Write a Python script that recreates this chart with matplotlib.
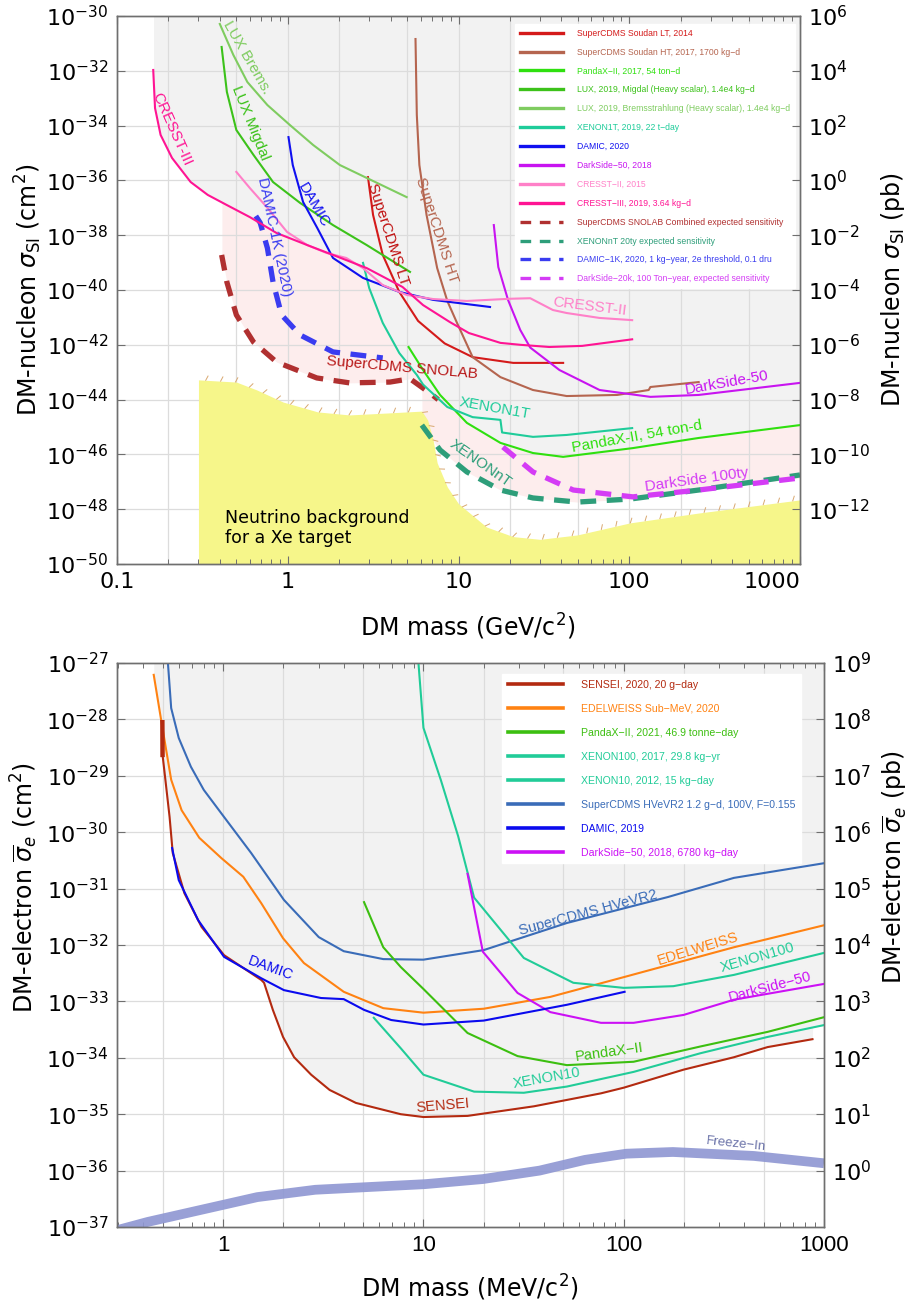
import numpy as np
import matplotlib
matplotlib.use("Agg")
import matplotlib.pyplot as plt
from matplotlib.lines import Line2D
from matplotlib import patheffects as pe
from matplotlib.ticker import NullLocator, LogLocator, NullFormatter

# ---------------- DATA: top panel (GeV, log10 sigma_SI / cm^2) ----------------
cresst3_m = [0.163, 0.167, 0.18, 0.21, 0.27, 0.34, 0.44, 0.60, 0.86, 1.30, 1.84, 2.9, 4.7, 6.2, 8.9, 11.5, 17.6, 23, 34, 53, 104]
cresst3_e = [-31.97, -33.36, -34.34, -35.18, -36.06, -36.53, -36.9, -37.34, -37.92, -38.36, -38.72, -39.2, -39.89, -40.55, -41.17, -41.57, -41.93, -42.0, -42.08, -42.04, -41.8]
cresst2_m = [0.5, 0.6, 0.76, 0.99, 1.3, 1.69, 2.2, 2.76, 3.6, 4.97, 7.1, 11.2, 20, 26.3, 35.7, 43, 67, 104]
cresst2_e = [-35.69, -36.28, -37.0, -37.88, -38.36, -38.65, -38.83, -39.2, -39.82, -40.18, -40.33, -40.4, -40.32, -40.3, -40.73, -40.84, -41.02, -41.1]
damic20_m = [1.01, 1.07, 1.23, 1.49, 1.84, 2.76, 4.5, 7.1, 15.3]
damic20_e = [-34.42, -35.44, -36.79, -37.74, -38.83, -39.56, -40.07, -40.36, -40.62]
luxb_m = [0.4, 0.48, 0.58, 0.76, 1.03, 1.41, 2.02, 2.9, 4.97]
luxb_e = [-30.29, -31.42, -32.41, -33.25, -33.98, -34.71, -35.44, -35.91, -36.61]
luxm_m = [0.41, 0.44, 0.5, 0.63, 0.82, 1.18, 1.84, 2.9, 5.2]
luxm_e = [-31.13, -32.77, -34.16, -35.07, -36.06, -36.82, -37.63, -38.36, -39.34]
x1t_m = [2.76, 3.0, 3.6, 4.5, 5.7, 6.2, 8.6, 12.1, 17.6, 18.0, 27.3, 43, 104]
x1t_e = [-39.01, -39.93, -41.2, -42.3, -43.1, -43.45, -44.27, -44.64, -44.74, -45.2, -45.36, -45.29, -45.04]
px17_m = [5.1, 6.2, 7.8, 11.2, 17.6, 27.3, 41, 105, 255, 1000]
px17_e = [-42.08, -42.92, -43.83, -44.85, -45.58, -45.95, -46.09, -45.77, -45.4, -44.93]
cdmslt_m = [2.95, 3.16, 3.6, 4.5, 5.8, 8.3, 12.1, 20.9, 41]
cdmslt_e = [-35.88, -37.26, -38.72, -40.07, -41.13, -41.95, -42.45, -42.66, -42.66]
cdmsht_m = [5.6, 5.7, 5.9, 6.5, 7.5, 8.6, 9.8, 12.1, 17.6, 27.3, 43, 85, 130, 133, 255]
cdmsht_e = [-30.84, -33.61, -35.44, -37.26, -39.2, -40.4, -41.2, -42.45, -43.18, -43.65, -43.87, -43.83, -43.65, -43.54, -43.36]
ds50_m = [16.1, 17.1, 19.5, 23, 26.3, 39, 67, 133, 255, 1000]
ds50_e = [-37.63, -39.16, -40.36, -41.46, -42.1, -42.92, -43.65, -43.9, -43.83, -43.39]
snolab_m = [0.41, 0.44, 0.5, 0.63, 0.86, 1.48, 2.3, 3.97, 5.2, 6.8, 7.6]
snolab_e = [-38.72, -39.71, -40.91, -41.9, -42.63, -43.21, -43.39, -43.36, -43.24, -43.76, -44.0]
xnt_m = [6.1, 7.8, 11.2, 17.6, 27.3, 49.6, 101, 255, 1000]
xnt_e = [-44.93, -45.84, -46.64, -47.3, -47.59, -47.74, -47.63, -47.3, -46.75]
ds20k_m = [18.2, 27.3, 47, 105, 255, 1000]
ds20k_e = [-45.73, -46.64, -47.3, -47.55, -47.3, -46.86]
damic1k_m = [0.65, 0.69, 0.76, 0.82, 0.92, 1.18, 1.84, 3.6]
damic1k_e = [-37.3, -37.55, -38.47, -39.71, -40.91, -41.64, -42.26, -42.48]
nu_m = [0.30, 0.5, 0.66, 0.94, 1.5, 2.3, 3.8, 6.1, 6.6, 7.1, 7.5, 8.6, 10, 14.6, 20.9, 30, 49.6, 101, 255, 1000]
nu_e = [-43.28, -43.36, -43.65, -44.09, -44.45, -44.56, -44.49, -44.42, -44.75, -45.47, -46.31, -47.19, -47.8, -48.65, -49.0, -49.1, -48.94, -48.5, -48.14, -47.66]

top_xticks = [0.1, 1, 10, 100, 1000]
top_xticklabels = ["0.1", "1", "10", "100", "1000"]
top_yexp = [-30, -32, -34, -36, -38, -40, -42, -44, -46, -48, -50]
top_ryexp = [6, 4, 2, 0, -2, -4, -6, -8, -10, -12]

# ---------------- DATA: bottom panel (MeV, log10 sigma_e / cm^2) ----------------
hvev_m = [0.52, 0.55, 0.60, 0.69, 0.80, 1.01, 1.38, 2.01, 3.0, 4.0, 6.3, 10, 20, 52, 166, 355, 1000]
hvev_e = [-26.6, -27.8, -28.33, -28.84, -29.25, -29.73, -30.37, -31.2, -31.86, -32.11, -32.25, -32.26, -32.09, -31.61, -31.15, -30.81, -30.55]
edel_m = [0.45, 0.49, 0.55, 0.62, 0.76, 0.98, 1.26, 1.55, 1.99, 2.53, 4.0, 6.3, 10, 20, 43, 100, 355, 1000]
edel_e = [-27.21, -28.01, -29.07, -29.61, -30.1, -30.46, -30.79, -31.26, -31.88, -32.32, -32.83, -33.12, -33.2, -33.13, -32.92, -32.57, -32.04, -31.65]
sensei_m = [0.497, 0.498, 0.51, 0.54, 0.56, 0.64, 0.78, 1.01, 1.55, 1.6, 1.77, 1.99, 2.26, 2.75, 3.4, 4.6, 7.7, 10, 16.6, 35.6, 77, 100, 199, 355, 523, 876]
sensei_e = [-28.05, -28.63, -28.95, -29.73, -30.37, -31.08, -31.68, -32.18, -32.62, -32.67, -33.15, -33.63, -33.99, -34.3, -34.57, -34.8, -35.0, -35.05, -35.03, -34.86, -34.63, -34.53, -34.21, -33.99, -33.81, -33.67]
damic19_m = [0.556, 0.60, 0.75, 1.01, 1.55, 2.01, 3.08, 4.0, 5.05, 6.9, 10, 20, 52, 101]
damic19_e = [-30.28, -30.85, -31.56, -32.21, -32.59, -32.8, -32.94, -32.96, -33.15, -33.33, -33.41, -33.34, -33.06, -32.83]
px21_m = [5.05, 6.3, 7.7, 10, 16.6, 29.5, 52, 112, 241, 523, 1000]
px21_e = [-31.24, -32.04, -32.39, -32.78, -33.56, -33.97, -34.13, -34.07, -33.8, -33.54, -33.28]
x10_m = [5.65, 7.7, 10, 17.9, 31.7, 52, 112, 241, 523, 1000]
x10_e = [-33.29, -33.83, -34.3, -34.6, -34.62, -34.51, -34.25, -33.92, -33.63, -33.42]
x100_m = [9.3, 10, 12.2, 14.9, 17.9, 31.7, 56, 100, 177, 355, 1000]
x100_e = [-26.7, -28.15, -29.07, -30.07, -31.16, -32.23, -32.67, -32.76, -32.73, -32.53, -32.14]
ds50e_m = [16.6, 19.8, 29.5, 43, 77, 112, 199, 355, 1000]
ds50e_e = [-30.74, -32.12, -32.85, -33.19, -33.38, -33.38, -33.24, -32.97, -32.69]
fi_m = [0.30, 0.42, 1.48, 2.88, 10.2, 19.8, 38, 64, 103, 176, 446, 1000]
fi_e = [-37.05, -36.91, -36.47, -36.34, -36.24, -36.15, -36.0, -35.81, -35.7, -35.67, -35.74, -35.87]

bot_xticks = [1, 10, 100, 1000]
bot_xticklabels = ["1", "10", "100", "1000"]
bot_yexp = [-27, -28, -29, -30, -31, -32, -33, -34, -35, -36, -37]
bot_ryexp = [9, 8, 7, 6, 5, 4, 3, 2, 1, 0]

# ---------------- helpers ----------------
def sig(e):
    return 10.0 ** np.asarray(e, dtype=float)

def envelope(curves, grid):
    lg = np.log10(grid)
    vals = np.full((len(curves), len(grid)), np.inf)
    for i, (m, e) in enumerate(curves):
        lm = np.log10(m)
        inside = (lg >= lm.min()) & (lg <= lm.max())
        vals[i, inside] = np.interp(lg[inside], lm, e)
    return vals.min(axis=0)

W, H = 910, 1309
fig = plt.figure(figsize=(W / 100, H / 100), dpi=100)
fig.patch.set_facecolor("white")

def px_axes(l, t, r, b):
    return fig.add_axes([l / W, 1 - b / H, (r - l) / W, (b - t) / H])

GRAY = "#f2f2f2"
PINK = "#fdeded"
YELLOW = "#f6f68a"
GRID = "#dcdcdc"
SPINE = "#6f6f6f"
LBL = ["Liberation Sans", "DejaVu Sans"]
NARROW = ["Liberation Sans Narrow", "Liberation Sans", "DejaVu Sans"]

def style_axes(ax):
    for s in ax.spines.values():
        s.set_color(SPINE)
        s.set_linewidth(1.0)

# =============================== TOP PANEL ===============================
ax = px_axes(117, 16, 800, 564)
ax.set_xscale("log"); ax.set_yscale("log")
ax.set_xlim(0.1, 1000); ax.set_ylim(1e-50, 1e-30)
style_axes(ax)

solid_top = [
    (cresst3_m, cresst3_e), (cresst2_m, cresst2_e), (damic20_m, damic20_e),
    (luxb_m, luxb_e), (luxm_m, luxm_e), (x1t_m, x1t_e), (px17_m, px17_e),
    (cdmslt_m, cdmslt_e), (cdmsht_m, cdmsht_e), (ds50_m, ds50_e)]
proj_top = [(snolab_m, snolab_e), (xnt_m, xnt_e), (ds20k_m, ds20k_e), (damic1k_m, damic1k_e)]
g = np.logspace(np.log10(0.1), 3, 2000)
env_t = envelope(solid_top, g)
proj_t = envelope(proj_top, g)
ok = np.isfinite(env_t)
ax.fill_between(g[ok], sig(env_t[ok]), 1e-30, color=GRAY, lw=0, zorder=0.2)
pk = np.isfinite(proj_t) & ok & (proj_t < env_t)
ax.fill_between(g, sig(np.where(pk, proj_t, -30)), sig(np.where(pk, env_t, -30)),
                where=pk, color=PINK, lw=0, zorder=0.2)
ax.fill_between(nu_m, sig(nu_e), 1e-51, color=YELLOW, lw=0, zorder=0.6)
ax.plot(nu_m, sig(nu_e), color="#d9a870", lw=0.7, zorder=0.65,
        path_effects=[pe.TickedStroke(spacing=10.5, angle=65, length=0.33)])

for gx in [0.2, 0.5, 1, 2, 5, 10, 20, 50, 100, 200, 500]:
    ax.axvline(gx, color=GRID, lw=0.9, zorder=0.4)
for ge in top_yexp[1:-1]:
    ax.axhline(10.0 ** ge, color=GRID, lw=0.9, zorder=0.4)

LW = 1.5
c_lt, c_ht, c_p17, c_lm, c_lb = "#d41a1a", "#b5654f", "#2fe00f", "#3cc21a", "#7fcc60"
c_x1t, c_d20, c_ds, c_c2, c_c3 = "#1fcc9a", "#1010f0", "#c814f0", "#ff80c8", "#ff1493"
c_sno, c_xnt, c_d1k, c_d20k = "#b03030", "#2e9e7a", "#3a3cf0", "#d43cf5"

ax.plot(cdmslt_m, sig(cdmslt_e), color=c_lt, lw=LW, zorder=3)
ax.plot(cdmsht_m, sig(cdmsht_e), color=c_ht, lw=LW, zorder=3)
ax.plot(px17_m, sig(px17_e), color=c_p17, lw=LW, zorder=3)
ax.plot(luxm_m, sig(luxm_e), color=c_lm, lw=LW, zorder=3)
ax.plot(luxb_m, sig(luxb_e), color=c_lb, lw=LW, zorder=3)
ax.plot(x1t_m, sig(x1t_e), color=c_x1t, lw=LW, zorder=3)
ax.plot(damic20_m, sig(damic20_e), color=c_d20, lw=LW, zorder=3)
ax.plot(ds50_m, sig(ds50_e), color=c_ds, lw=LW, zorder=3)
ax.plot(cresst2_m, sig(cresst2_e), color=c_c2, lw=LW, zorder=3)
ax.plot(cresst3_m, sig(cresst3_e), color=c_c3, lw=LW, zorder=3)
DL = 3.8
ax.plot(snolab_m, sig(snolab_e), color=c_sno, lw=DL, dashes=(3.0, 2.0), zorder=2.5)
ax.plot(xnt_m, sig(xnt_e), color=c_xnt, lw=DL, dashes=(3.0, 2.0), zorder=2.5)
ax.plot(damic1k_m, sig(damic1k_e), color=c_d1k, lw=DL, dashes=(3.0, 2.0), zorder=2.5)
ax.plot(ds20k_m, sig(ds20k_e), color=c_d20k, lw=DL, dashes=(3.0, 2.0), zorder=2.5)

def lab(a, x, e, s, c, rot, fs=11, fam=LBL):
    a.text(x, 10.0 ** e, s, color=c, rotation=rot, fontsize=fs, ha="center", va="center",
           family=fam, rotation_mode="anchor", zorder=4)

lab(ax, 0.21, -34.12, "CRESST-III", c_c3, -66)
lab(ax, 0.577, -31.5, "LUX Brems.", c_lb, -60)
lab(ax, 0.60, -33.9, "LUX Migdal", c_lm, -68)
lab(ax, 0.84, -38.07, "DAMIC-1K (2020)", c_d1k, -78)
lab(ax, 1.41, -36.9, "DAMIC", c_d20, -60)
lab(ax, 3.86, -37.99, "SuperCDMS LT", "#c01010", -72)
lab(ax, 7.5, -37.81, "SuperCDMS HT", c_ht, -72)
lab(ax, 4.67, -42.85, "SuperCDMS SNOLAB", "#b81818", -5)
lab(ax, 58.9, -40.62, "CRESST-II", c_c2, -7)
lab(ax, 373, -43.39, "DarkSide-50", c_ds, 10)
lab(ax, 16.4, -44.3, "XENON1T", c_x1t, -10)
lab(ax, 111, -45.36, "PandaX-II, 54 ton-d", c_p17, 10)
lab(ax, 13.4, -46.31, "XENONnT", c_xnt, -35)
lab(ax, 250, -46.93, "DarkSide 100ty", c_d20k, 8)
ax.text(0.43, 10.0 ** -48.69, "Neutrino background\nfor a Xe target", fontsize=12.5,
        ha="left", va="center", color="black", family="DejaVu Sans", zorder=4, linespacing=1.15)

ax.set_xticks(top_xticks)
ax.set_xticklabels(top_xticklabels)
ax.xaxis.set_minor_locator(LogLocator(base=10, subs=np.arange(2, 10)))
ax.xaxis.set_minor_formatter(NullFormatter())
ax.set_yticks([10.0 ** e for e in top_yexp])
ax.set_yticklabels([r"$10^{%d}$" % e for e in top_yexp])
ax.yaxis.set_minor_locator(NullLocator())
ax.tick_params(which="major", direction="in", length=6, width=0.8, color=SPINE, labelsize=16,
               top=True, bottom=True, left=True, right=False, pad=6)
ax.tick_params(which="minor", direction="in", length=3.5, width=0.7, color=SPINE, top=True, bottom=True)
ax.get_xticklabels()[-1].set_ha("right")

axr = ax.twinx()
axr.set_yscale("log"); axr.set_ylim(1e-14, 1e6)
axr.set_yticks([10.0 ** e for e in top_ryexp])
axr.set_yticklabels([r"$10^{%d}$" % e for e in top_ryexp])
axr.yaxis.set_minor_locator(NullLocator())
axr.tick_params(which="major", direction="in", length=6, width=0.8, color=SPINE, labelsize=16, pad=6)
style_axes(axr)

h_top = [
    Line2D([], [], color=c_lt, lw=2.4, label="SuperCDMS Soudan LT, 2014"),
    Line2D([], [], color=c_ht, lw=2.4, label="SuperCDMS Soudan HT, 2017, 1700 kg\u2212d"),
    Line2D([], [], color=c_p17, lw=2.4, label="PandaX\u2212II, 2017, 54 ton\u2212d"),
    Line2D([], [], color=c_lm, lw=2.4, label="LUX, 2019, Migdal (Heavy scalar), 1.4e4 kg\u2212d"),
    Line2D([], [], color=c_lb, lw=2.4, label="LUX, 2019, Bremsstrahlung (Heavy scalar), 1.4e4 kg\u2212d"),
    Line2D([], [], color=c_x1t, lw=2.4, label="XENON1T, 2019, 22 t\u2212day"),
    Line2D([], [], color=c_d20, lw=2.4, label="DAMIC, 2020"),
    Line2D([], [], color=c_ds, lw=2.4, label="DarkSide\u221250, 2018"),
    Line2D([], [], color=c_c2, lw=2.4, label="CRESST\u2212II, 2015"),
    Line2D([], [], color=c_c3, lw=2.4, label="CRESST\u2212III, 2019, 3.64 kg\u2212d"),
    Line2D([], [], color=c_sno, lw=2.4, dashes=(3.2, 2.6), label="SuperCDMS SNOLAB Combined expected sensitivity"),
    Line2D([], [], color=c_xnt, lw=2.4, dashes=(3.2, 2.6), label="XENONnT 20ty expected sensitivity"),
    Line2D([], [], color=c_d1k, lw=2.4, dashes=(3.2, 2.6), label="DAMIC\u22121K, 2020, 1 kg\u2212year, 2e threshold, 0.1 dru"),
    Line2D([], [], color=c_d20k, lw=2.4, dashes=(3.2, 2.6), label="DarkSide\u221220k, 100 Ton\u2212year, expected sensitivity"),
]
leg = ax.legend(handles=h_top, loc="upper left", bbox_to_anchor=(511 / W, 1 - 20 / H),
                bbox_transform=fig.transFigure, labelcolor="linecolor",
                handlelength=5.0, handletextpad=1.7, labelspacing=1.15, borderpad=0.5,
                frameon=True, fancybox=False, framealpha=1, prop={"family": LBL, "size": 6.2})
leg.get_frame().set_edgecolor("white")
leg.get_frame().set_facecolor("white")
leg.set_zorder(10)

fig.text(468 / W, 1 - 627 / H, r"DM mass (GeV/c$^2$)", fontsize=17, ha="center", va="center")
fig.text(28 / W, 1 - 290 / H, r"DM-nucleon $\sigma_{\rm SI}$ (cm$^2$)", fontsize=17,
         ha="center", va="center", rotation=90)
fig.text(893 / W, 1 - 290 / H, r"DM-nucleon $\sigma_{\rm SI}$ (pb)", fontsize=17,
         ha="center", va="center", rotation=90)

# =============================== BOTTOM PANEL ===============================
bx = px_axes(117, 663, 824, 1227)
bx.set_xscale("log"); bx.set_yscale("log")
bx.set_xlim(0.295, 1000); bx.set_ylim(1e-37, 1e-27)
style_axes(bx)

solid_bot = [(hvev_m, hvev_e), (edel_m, edel_e), (sensei_m, sensei_e), (damic19_m, damic19_e),
             (px21_m, px21_e), (x10_m, x10_e), (x100_m, x100_e), (ds50e_m, ds50e_e)]
gb = np.logspace(np.log10(0.295), 3, 2000)
env_b = envelope(solid_bot, gb)
okb = np.isfinite(env_b)
bx.fill_between(gb[okb], sig(np.minimum(env_b[okb], -27)), 1e-27, color=GRAY, lw=0, zorder=0.2)

for gx in [0.5, 1, 2, 5, 10, 20, 50, 100, 200, 500]:
    bx.axvline(gx, color=GRID, lw=0.9, zorder=0.4)
for ge in bot_yexp[1:-1]:
    bx.axhline(10.0 ** ge, color=GRID, lw=0.9, zorder=0.4)

c_sen, c_edel, c_p21, c_x100 = "#b32a10", "#ff8212", "#3cbf10", "#21cc98"
c_hvev, c_d19, c_ds50e, c_fi = "#3a6cb8", "#0a0aee", "#cc11f5", "#8e96d2"

bx.plot(fi_m, sig(fi_e), color=c_fi, lw=7, alpha=0.9, solid_capstyle="butt", zorder=2)
bx.plot(hvev_m, sig(hvev_e), color=c_hvev, lw=LW, zorder=3)
bx.plot(edel_m, sig(edel_e), color=c_edel, lw=LW, zorder=3)
bx.plot(px21_m, sig(px21_e), color=c_p21, lw=LW, zorder=3)
bx.plot(x100_m, sig(x100_e), color=c_x100, lw=LW, zorder=3)
bx.plot(x10_m, sig(x10_e), color=c_x100, lw=LW, zorder=3)
bx.plot(ds50e_m, sig(ds50e_e), color=c_ds50e, lw=LW, zorder=3)
bx.plot(sensei_m, sig(sensei_e), color=c_sen, lw=LW, zorder=3)
bx.plot(sensei_m[:2], sig(sensei_e[:2]), color=c_sen, lw=3.2, zorder=3)
bx.plot(damic19_m, sig(damic19_e), color=c_d19, lw=LW, zorder=3.1)

lab(bx, 1.72, -32.41, "DAMIC", c_d19, -20, fs=10.5)
lab(bx, 66, -31.43, "SuperCDMS HVeVR2", c_hvev, 15, fs=10.5)
lab(bx, 234, -32.07, "EDELWEISS", c_edel, 17, fs=10.5)
lab(bx, 466, -32.23, "XENON100", c_x100, 16, fs=10.5)
lab(bx, 535, -32.74, "DarkSide\u221250", c_ds50e, 15, fs=10.5)
lab(bx, 85, -33.91, "PandaX\u2212II", c_p21, 8, fs=10.5)
lab(bx, 41.3, -34.36, "XENON10", c_x100, 10, fs=10.5)
lab(bx, 12.5, -34.85, "SENSEI", c_sen, 5, fs=10.5)
lab(bx, 362, -35.53, "Freeze\u2212In", "#6a72a8", -6, fs=9.5)

bx.set_xticks(bot_xticks)
bx.set_xticklabels(bot_xticklabels)
bx.xaxis.set_minor_locator(LogLocator(base=10, subs=np.arange(2, 10)))
bx.xaxis.set_minor_formatter(NullFormatter())
bx.set_yticks([10.0 ** e for e in bot_yexp])
bx.set_yticklabels([r"$10^{%d}$" % e for e in bot_yexp])
bx.yaxis.set_minor_locator(NullLocator())
bx.tick_params(which="major", direction="in", length=6, width=0.8, color=SPINE, labelsize=16,
               top=True, bottom=True, left=True, right=False, pad=6)
bx.tick_params(which="minor", direction="in", length=3.5, width=0.7, color=SPINE, top=True, bottom=True)
for t in bx.get_xticklabels():
    t.set_family(NARROW)

bxr = bx.twinx()
bxr.set_yscale("log"); bxr.set_ylim(1e-1, 1e9)
bxr.set_yticks([10.0 ** e for e in bot_ryexp])
bxr.set_yticklabels([r"$10^{%d}$" % e for e in bot_ryexp])
bxr.yaxis.set_minor_locator(NullLocator())
bxr.tick_params(which="major", direction="in", length=6, width=0.8, color=SPINE, labelsize=16, pad=6)
style_axes(bxr)

h_bot = [
    Line2D([], [], color=c_sen, lw=2.6, label="SENSEI, 2020, 20 g\u2212day"),
    Line2D([], [], color=c_edel, lw=2.6, label="EDELWEISS Sub\u2212MeV, 2020"),
    Line2D([], [], color=c_p21, lw=2.6, label="PandaX\u2212II, 2021, 46.9 tonne\u2212day"),
    Line2D([], [], color=c_x100, lw=2.6, label="XENON100, 2017, 29.8 kg\u2212yr"),
    Line2D([], [], color=c_x100, lw=2.6, label="XENON10, 2012, 15 kg\u2212day"),
    Line2D([], [], color=c_hvev, lw=2.6, label="SuperCDMS HVeVR2 1.2 g\u2212d, 100V, F=0.155"),
    Line2D([], [], color=c_d19, lw=2.6, label="DAMIC, 2019"),
    Line2D([], [], color=c_ds50e, lw=2.6, label="DarkSide\u221250, 2018, 6780 kg\u2212day"),
]
legb = bx.legend(handles=h_bot, loc="upper left", bbox_to_anchor=(497 / W, 1 - 669 / H),
                 bbox_transform=fig.transFigure, labelcolor="linecolor",
                 handlelength=5.3, handletextpad=1.7, labelspacing=1.33, borderpad=0.5,
                 frameon=True, fancybox=False, framealpha=1, prop={"family": LBL, "size": 7.6})
legb.get_frame().set_edgecolor("white")
legb.get_frame().set_facecolor("white")
legb.set_zorder(10)

fig.text(470 / W, 1 - 1288 / H, r"DM mass (MeV/c$^2$)", fontsize=17, ha="center", va="center")
fig.text(24 / W, 1 - 887 / H, r"DM-electron $\overline{\sigma}_e$ (cm$^2$)", fontsize=17,
         ha="center", va="center", rotation=90)
fig.text(895 / W, 1 - 867 / H, r"DM-electron $\overline{\sigma}_e$ (pb)", fontsize=17,
         ha="center", va="center", rotation=90)

fig.savefig("out.png", dpi=100)
